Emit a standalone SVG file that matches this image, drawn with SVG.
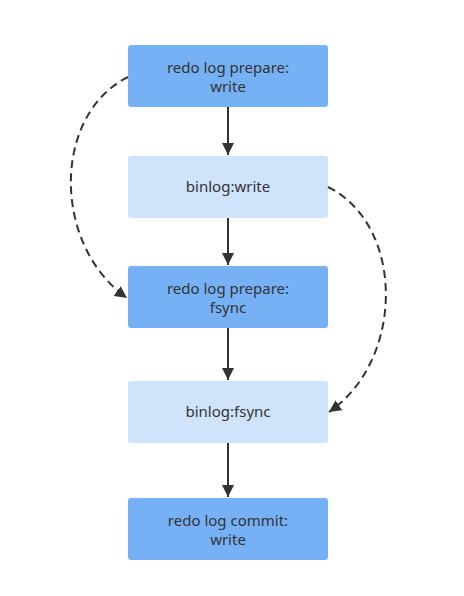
<svg xmlns="http://www.w3.org/2000/svg" width="464" height="596" viewBox="0 0 464 596">
<defs>
<style>
.dark{fill:#76b1f6;}
.light{fill:#cfe3fb;}
text{font-family:"Noto Sans","Liberation Sans",sans-serif;font-size:15px;fill:#333333;text-anchor:middle;}
.edge{stroke:#333333;stroke-width:2;fill:none;}
.dash{stroke-dasharray:8,5;}
</style>
<marker id="arr" markerUnits="userSpaceOnUse" markerWidth="12" markerHeight="12" viewBox="0 0 12 12" refX="12" refY="6" orient="auto">
<path d="M0,0 L12,6 L0,12 z" fill="#333333"/>
</marker>
</defs>
<rect width="464" height="596" fill="#ffffff"/>
<g id="n1"><rect class="dark" x="128" y="45" width="200" height="62" rx="3"/><text x="228" y="73">redo log prepare:</text><text x="228" y="92">write</text></g>
<g id="n2"><rect class="light" x="128" y="156" width="200" height="62" rx="3"/><text x="228" y="192">binlog:write</text></g>
<g id="n3"><rect class="dark" x="128" y="266" width="200" height="62" rx="3"/><text x="228" y="294">redo log prepare:</text><text x="228" y="313">fsync</text></g>
<g id="n4"><rect class="light" x="128" y="381" width="200" height="62" rx="3"/><text x="228" y="417">binlog:fsync</text></g>
<g id="n5"><rect class="dark" x="128" y="498" width="200" height="62" rx="3"/><text x="228" y="526">redo log commit:</text><text x="228" y="545">write</text></g>
<g id="edges">
<path class="edge" d="M228,107 L228,155" marker-end="url(#arr)"/>
<path class="edge" d="M228,218 L228,265" marker-end="url(#arr)"/>
<path class="edge" d="M228,328 L228,380" marker-end="url(#arr)"/>
<path class="edge" d="M228,443 L228,497" marker-end="url(#arr)"/>
<path class="edge dash" d="M128,77 C52,115 52,245 127,298" marker-end="url(#arr)"/>
<path class="edge dash" d="M328,187 C405,225 405,360 329,412" marker-end="url(#arr)"/>
</g>
</svg>
